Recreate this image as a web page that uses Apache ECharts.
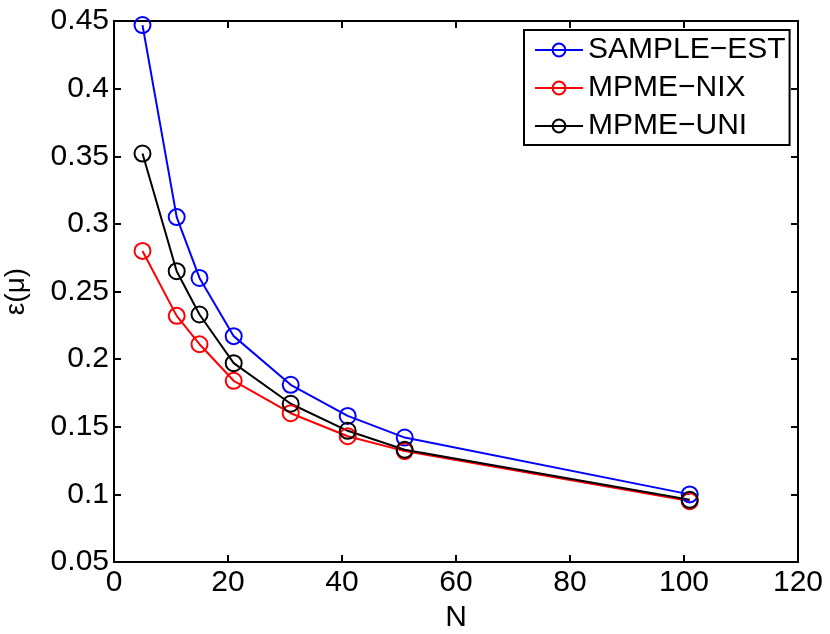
<!DOCTYPE html>
<html>
<head>
<meta charset="utf-8">
<script src="https://cdn.jsdelivr.net/npm/echarts@6/dist/echarts.min.js"></script>
<style>
  html, body { margin: 0; padding: 0; background: #fff; }
  #chart { width: 830px; height: 634px; }
</style>
</head>
<body>
<div id="chart"></div>
<script>
// data
const nValues = [5, 11, 15, 21, 31, 41, 51, 101]
const sampleEst = [0.447, 0.305, 0.260, 0.217, 0.181, 0.158, 0.142, 0.100]
const mpmeNix = [0.280, 0.232, 0.211, 0.184, 0.160, 0.143, 0.132, 0.095]
const mpmeUni = [0.352, 0.265, 0.233, 0.197, 0.167, 0.147, 0.133, 0.096]
const seriesNames = ['SAMPLE\u2212EST', 'MPME\u2212NIX', 'MPME\u2212UNI']
const seriesColors = ['#0000ff', '#ff0000', '#000000']

const font = '"Liberation Sans", Arial, Helvetica, sans-serif'
const axisBase = {
  axisLine: { show: true, onZero: false, lineStyle: { color: '#000', width: 2 } },
  axisTick: { show: true, inside: true, length: 7, lineStyle: { color: '#000', width: 2 } },
  splitLine: { show: false }
}

function makeSeries (name, values, color) {
  return {
    name,
    type: 'line',
    data: nValues.map((n, i) => [n, values[i]]),
    symbol: 'circle',
    symbolSize: 16,
    lineStyle: { color, width: 2 },
    itemStyle: { color: 'rgba(0,0,0,0)', borderColor: color, borderWidth: 2 }
  }
}

const myChart = echarts.init(document.getElementById('chart'))
myChart.setOption({
  animation: false,
  textStyle: { fontFamily: font },
  grid: { left: 114, right: 32, top: 21, bottom: 72, outerBoundsMode: 'none', containLabel: false },
  legend: {
    orient: 'vertical',
    left: 524,
    top: 30,
    padding: [5, 4, 4, 10],
    itemGap: 8,
    itemWidth: 48,
    itemHeight: 16,
    borderColor: '#000',
    borderWidth: 2,
    textStyle: { fontSize: 30, color: '#000', lineHeight: 30, fontFamily: font }
  },
  xAxis: [
    Object.assign({}, axisBase, {
      type: 'value', min: 0, max: 120, interval: 20, position: 'bottom',
      name: 'N', nameLocation: 'middle', nameGap: 35,
      nameTextStyle: { fontSize: 30, color: '#000' },
      axisLabel: { fontSize: 30, color: '#000', margin: 6 }
    }),
    Object.assign({}, axisBase, {
      type: 'value', min: 0, max: 120, interval: 20, position: 'top',
      axisLabel: { show: false }
    })
  ],
  yAxis: [
    Object.assign({}, axisBase, {
      type: 'value', min: 0.05, max: 0.45, interval: 0.05, position: 'left',
      name: '\u03b5(\u03bc)', nameLocation: 'middle', nameGap: 84,
      nameTextStyle: { fontSize: 28, color: '#000' },
      axisLabel: { fontSize: 30, color: '#000', margin: 5, formatter: v => String(+v.toFixed(2)) }
    }),
    Object.assign({}, axisBase, {
      type: 'value', min: 0.05, max: 0.45, interval: 0.05, position: 'right',
      axisLabel: { show: false }
    })
  ],
  series: [
    makeSeries(seriesNames[0], sampleEst, seriesColors[0]),
    makeSeries(seriesNames[1], mpmeNix, seriesColors[1]),
    makeSeries(seriesNames[2], mpmeUni, seriesColors[2])
  ]
})
</script>
</body>
</html>
